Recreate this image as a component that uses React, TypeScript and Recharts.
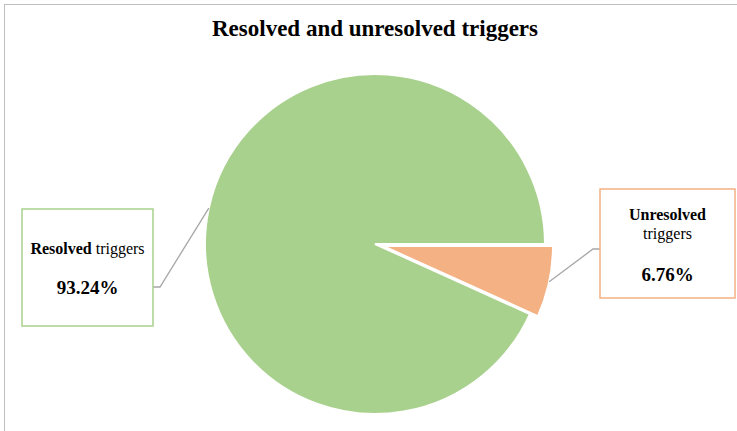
import React from 'react';
import { PieChart, Pie, Cell } from 'recharts';

// trigger outcome shares, in percent
const categories = ['Unresolved', 'Resolved'];
const shares = [6.76, 93.24];
const sliceColors = ['#F4B183', '#A9D18E'];

const data = categories.map((name, i) => ({ name, value: shares[i] }));

const RADIAN = Math.PI / 180;
const SERIF = '"Liberation Serif", "Times New Roman", serif';

// callout boxes, by data index
const boxes = [
  { x: 600, y: 189, w: 135, h: 109, elbowX: 593, elbowY: 249 },
  { x: 22, y: 209, w: 131, h: 117, elbowX: 160, elbowY: 287 },
];

const Callout = (props: any) => {
  const { cx, cy, midAngle, outerRadius, index, value, name } = props;
  const b = boxes[index];
  const px = cx + outerRadius * Math.cos(-midAngle * RADIAN);
  const py = cy + outerRadius * Math.sin(-midAngle * RADIAN);
  const edgeX = b.elbowX < b.x ? b.x : b.x + b.w;
  const mid = b.x + b.w / 2;
  const pct = `${value.toFixed(2)}%`;
  return (
    <g>
      <polyline
        points={`${px},${py} ${b.elbowX},${b.elbowY} ${edgeX},${b.elbowY}`}
        fill="none"
        stroke="#A6A6A6"
        strokeWidth={1.3}
      />
      <rect x={b.x} y={b.y} width={b.w} height={b.h} fill="#fff" stroke={sliceColors[index]} strokeWidth={1.5} />
      {index === 0 ? (
        <text textAnchor="middle" fontFamily={SERIF} fill="#000">
          <tspan x={mid} y={b.y + 31} fontSize={16} fontWeight="bold">{name}</tspan>
          <tspan x={mid} y={b.y + 50} fontSize={16}>triggers</tspan>
          <tspan x={mid} y={b.y + 92} fontSize={19} fontWeight="bold">{pct}</tspan>
        </text>
      ) : (
        <text textAnchor="middle" fontFamily={SERIF} fill="#000">
          <tspan x={mid} y={b.y + 45} fontSize={16}>
            <tspan fontWeight="bold">{name}</tspan> triggers
          </tspan>
          <tspan x={mid} y={b.y + 85} fontSize={19} fontWeight="bold">{pct}</tspan>
        </text>
      )}
    </g>
  );
};

export default function App() {
  return (
    <div style={{ position: 'absolute', left: 0, top: 0, width: 737, height: 431, background: '#fff' }}>
      <div
        style={{
          position: 'absolute',
          left: 4,
          top: 4,
          right: 0,
          bottom: 0,
          borderTop: '1px solid #BFBFBF',
          borderLeft: '1px solid #BFBFBF',
        }}
      />
      <div
        style={{
          position: 'absolute',
          left: 0,
          top: 16,
          width: 750,
          textAlign: 'center',
          fontFamily: SERIF,
          fontWeight: 'bold',
          fontSize: 23,
          color: '#000',
        }}
      >
        Resolved and unresolved triggers
      </div>
      <PieChart width={737} height={431} style={{ position: 'absolute', left: 0, top: 0 }}>
        <Pie
          data={data}
          dataKey="value"
          cx={370}
          cy={239}
          outerRadius={170}
          startAngle={0}
          endAngle={-360}
          stroke="#fff"
          strokeWidth={2}
          labelLine={false}
          label={(p: any) => (p.index === 1 ? <Callout {...p} /> : null)}
          isAnimationActive={false}
        >
          {data.map((d, i) => (
            <Cell key={d.name} fill={i === 1 ? sliceColors[1] : 'none'} stroke={i === 1 ? '#fff' : 'none'} />
          ))}
        </Pie>
        {/* exploded slice */}
        <Pie
          data={data}
          dataKey="value"
          cx={378}
          cy={241}
          outerRadius={170}
          startAngle={0}
          endAngle={-360}
          stroke="#fff"
          strokeWidth={2}
          labelLine={false}
          label={(p: any) => (p.index === 0 ? <Callout {...p} /> : null)}
          isAnimationActive={false}
        >
          {data.map((d, i) => (
            <Cell key={d.name} fill={i === 0 ? sliceColors[0] : 'none'} stroke={i === 0 ? '#fff' : 'none'} />
          ))}
        </Pie>
      </PieChart>
    </div>
  );
}
